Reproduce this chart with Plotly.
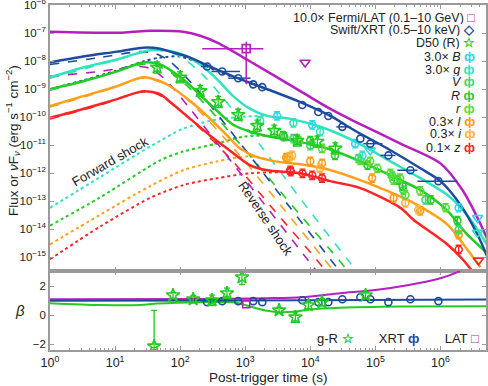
import plotly.graph_objects as go

# ---------------- colours ----------------
C_LAT = "#b51fbf"
C_XRT = "#1d4c9e"
C_TQ = "#2fe3bd"
C_CY = "#2ad6ec"
C_GN = "#22cc22"
C_V = "#3fd66a"
C_R = "#2bc92b"
C_r = "#55dd33"
C_OR = "#ffa01a"
C_I = "#ff9a10"
C_i = "#ffb23a"
C_RD = "#ff2424"

# ---------------- model curves : log10(t [s]), log10(flux) ----------------
lat_tot_lt = [0, 1.031, 1.277, 1.538, 2.046, 2.308, 2.569, 3.077, 3.846, 4.308, 4.662, 5.385, 6.0, 6.338, 6.569, 6.723]
lat_tot_lf = [-6.954, -6.989, -6.954, -6.919, -6.954, -7.095, -7.343, -8.014, -9.074, -9.71, -10.134, -10.947, -11.654, -12.608, -13.597, -14.375]

xrt_tot_lt = [0, 0.508, 1.031, 1.431, 1.692, 1.846, 2.154, 2.415, 2.815, 3.338, 3.846, 4.308, 4.662, 5.185, 5.692, 6.0, 6.308, 6.569, 6.723]
xrt_tot_lf = [-8.049, -7.837, -7.661, -7.519, -7.555, -7.661, -7.873, -8.155, -8.544, -9.004, -9.463, -9.958, -10.452, -11.124, -11.830, -12.290, -13.138, -14.198, -15.011]

tq_tot_lt = [0, 0.508, 1.031, 1.431, 1.692, 2.046, 2.308, 2.569, 2.815, 3.077, 3.338, 3.692, 4.154, 4.692, 5.231, 5.692, 6.108, 6.354, 6.569, 6.738]
tq_tot_lf = [-8.580, -8.226, -7.943, -7.661, -7.590, -7.767, -8.12, -8.650, -9.251, -9.710, -9.958, -10.064, -10.346, -10.876, -11.583, -12.184, -12.784, -13.350, -14.021, -14.657]

gn_tot_lt = [0, 0.508, 1.031, 1.431, 1.692, 2.046, 2.308, 2.569, 2.815, 3.077, 3.385, 3.738, 4.262, 4.769, 5.385, 5.692, 6.108, 6.385, 6.738]
gn_tot_lf = [-9.004, -8.721, -8.367, -8.049, -8.12, -8.650, -9.216, -9.781, -10.276, -10.523, -10.700, -10.841, -11.124, -11.583, -12.254, -12.608, -13.350, -14.127, -14.905]

or_tot_lt = [0, 0.508, 1.031, 1.431, 1.692, 1.846, 2.154, 2.462, 2.723, 2.923, 3.154, 3.462, 3.846, 4.262, 4.769, 5.077, 5.585, 6.108, 6.354, 6.615]
or_tot_lf = [-9.604, -9.251, -8.898, -8.580, -8.721, -8.898, -9.428, -10.064, -10.664, -11.124, -11.406, -11.583, -11.689, -11.866, -12.254, -12.537, -13.067, -13.845, -14.551, -15.364]

rd_tot_lt = [0, 0.508, 1.031, 1.431, 1.692, 1.846, 2.154, 2.462, 2.723, 3.077, 3.338, 3.846, 4.308, 4.769, 5.385, 5.585, 6.108, 6.354, 6.615]
rd_tot_lf = [-10.028, -9.71, -9.357, -9.074, -9.18, -9.463, -10.064, -10.664, -11.124, -11.724, -11.901, -12.007, -12.290, -12.537, -13.244, -13.668, -14.551, -15.117, -15.894]

# reverse-shock components (dashed)
lat_rs_lt = [0, 0.769, 1.308, 1.538, 1.769, 2.154, 2.631, 3.338, 3.954, 4.169]
lat_rs_lf = [-8.544, -8.367, -8.191, -8.261, -8.650, -9.710, -11.124, -13.244, -15.081, -15.717]
rd_rs_lt = [0, 0.769, 1.385, 1.615, 1.846, 2.154, 2.769, 3.477, 4.092, 4.308]
rd_rs_lf = [-10.064, -9.569, -9.110, -9.145, -9.463, -10.064, -11.477, -13.420, -15.081, -15.717]
or_rs_lt = [0, 0.769, 1.385, 1.615, 1.846, 2.154, 2.892, 3.6, 4.215, 4.431]
or_rs_lf = [-9.640, -9.110, -8.615, -8.686, -8.898, -9.463, -11.300, -13.314, -15.081, -15.717]
xrt_rs_lt = [0, 0.769, 1.385, 1.615, 1.846, 2.231, 2.985, 3.692, 4.308, 4.523]
xrt_rs_lf = [-8.12, -7.873, -7.661, -7.731, -8.014, -8.933, -11.124, -13.244, -15.081, -15.717]
gn_rs_lt = [0, 0.769, 1.431, 1.662, 1.923, 2.308, 3.108, 3.815, 4.431, 4.646]
gn_rs_lf = [-9.039, -8.544, -8.12, -8.191, -8.509, -9.357, -11.477, -13.420, -15.081, -15.717]
tq_rs_lt = [0, 0.769, 1.431, 1.692, 2.0, 2.385, 3.246, 3.954, 4.569, 4.785]
tq_rs_lf = [-8.615, -8.12, -7.696, -7.625, -7.837, -8.580, -11.053, -13.244, -15.081, -15.717]

# forward-shock components (dotted)
xrt_fs_lt = [0, 0.508, 1.031, 1.431, 1.692, 2.0, 2.308, 2.615, 3.077, 3.338]
xrt_fs_lf = [-9.004, -8.686, -8.332, -8.014, -7.873, -7.837, -8.085, -8.403, -8.792, -9.004]
tq_fs_lt = [0, 0.769, 1.538, 2.046, 2.462, 2.923, 3.338]
tq_fs_lf = [-13.244, -12.148, -11.053, -10.417, -10.134, -9.993, -9.958]
gn_fs_lt = [0, 0.769, 1.692, 2.046, 2.569, 2.969, 3.308]
gn_fs_lf = [-13.880, -12.87, -11.548, -11.230, -10.947, -10.700, -10.664]
or_fs_lt = [0, 0.769, 1.538, 2.046, 2.569, 3.077, 3.462]
or_fs_lf = [-14.551, -13.491, -12.466, -11.901, -11.583, -11.406, -11.583]
rd_fs_lt = [0, 0.769, 1.538, 2.046, 2.569, 3.077, 3.692]
rd_fs_lf = [-15.081, -13.915, -12.890, -12.431, -12.184, -12.007, -11.97]

# ---------------- data points ----------------
lat_lt, lat_lf = [3.015], [-7.555]
lat_lt_lo, lat_lt_hi = [2.34], [3.28]
lat_lf_lo, lat_lf_hi = [-8.83], [-7.31]
lat_ul_lt, lat_ul_lf = [3.92], [-8.05]

xrt_lt = [2.415, 2.646, 2.892, 3.123, 3.262, 3.877, 4.123, 4.277, 4.492, 4.769, 4.923, 5.2, 5.538, 5.969]
xrt_lf = [-8.19, -8.37, -8.61, -8.83, -8.93, -9.57, -9.82, -9.96, -10.35, -10.77, -10.95, -11.37, -11.90, -12.29]
xrt_lt_lo = [2.32, 2.48, 2.74, 3.123, 3.262, 3.877, 4.123, 4.277, 4.40, 4.769, 4.815, 5.077, 5.338, 5.646]
xrt_lt_hi = [2.50, 2.92, 3.08, 3.123, 3.262, 3.877, 4.123, 4.277, 4.615, 4.769, 5.108, 5.308, 5.646, 6.262]

d50_lt = [1.646, 2.0, 2.308, 2.585, 2.892, 3.185, 3.446, 3.8, 4.108, 4.385]
d50_lf = [-8.23, -8.58, -9.07, -9.46, -9.92, -10.31, -10.49, -10.84, -10.88, -11.12]

B_lt, B_lf = [3.49, 4.03, 4.69, 6.28], [-9.96, -10.28, -10.95, -13.24]
B_ul_lt, B_ul_lf = [4.92, 6.57], [-11.19, -13.60]
g_lt, g_lf = [3.23, 3.74, 4.15, 4.8], [-10.13, -10.21, -10.52, -11.37]
g_ul_lt, g_ul_lf = [6.57], [-14.13]
V_lt = [3.74, 4.0, 4.74, 5.26, 5.43, 5.77, 6.28]
V_lf = [-10.77, -11.02, -11.48, -12.11, -12.61, -12.96, -14.02]
R_lt = [3.58, 3.60, 4.0, 4.38, 4.88, 5.34, 5.42, 5.85, 6.26]
R_lf = [-10.66, -10.70, -10.84, -11.37, -11.72, -12.25, -12.47, -12.96, -13.70]
r_lt = [3.82, 4.18, 4.77, 4.92, 5.03, 5.23, 5.28, 5.38, 5.46, 5.69, 6.08]
r_lf = [-10.84, -11.12, -11.55, -11.58, -11.83, -12.01, -12.25, -12.18, -12.78, -12.64, -13.24]
I_lt = [3.63, 3.65, 4.0, 4.18, 4.95, 5.28, 5.69, 6.28]
I_lf = [-11.45, -11.48, -11.58, -11.65, -12.18, -12.89, -13.35, -14.20]
i_lt = [3.68, 3.72, 4.15, 5.46, 5.66]
i_lf = [-11.41, -11.37, -11.83, -13.07, -13.31]
z_lt = [3.69, 3.70, 3.88, 4.03, 4.18, 6.28]
z_lf = [-11.90, -11.95, -12.01, -12.08, -12.18, -14.73]
z_ul_lt, z_ul_lf = [6.585], [-15.12]

# ---------------- spectral index beta ----------------
beta_xrt_mod_lt, beta_xrt_mod = [0, 3.0, 6.7], [1.0, 1.02, 1.08]
beta_lat_mod_lt = [0, 2.5, 3.338, 3.862, 4.462, 4.969, 5.492, 5.999, 6.262, 6.4]
beta_lat_mod = [1.1, 1.12, 1.17, 1.24, 1.52, 1.72, 2.07, 2.55, 2.97, 3.3]
beta_opt_mod_lt = [0, 0.769, 1.385, 1.646, 2.308, 2.846, 3.0, 3.154, 3.338, 3.538, 3.769, 4.0, 4.462, 5.385, 6.723]
beta_opt_mod = [0.83, 0.7, 0.7, 0.8, 0.9, 0.88, 0.7, 0.5, 0.3, 0.2, 0.25, 0.4, 0.52, 0.6, 0.62]

beta_gR_lt = [1.6, 1.89, 2.2, 2.49, 2.72, 2.95, 3.52, 3.77, 3.97, 4.18, 4.85]
beta_gR = [-2.14, 1.38, 1.1, 1.03, 1.52, 2.62, 0.34, -0.14, 0.69, 0.9, 1.38]
beta_gR_ep = [2.48, 0.2, 0.25, 0.35, 0.35, 0.5, 0.2, 0.35, 0.25, 0.25, 0.2]
beta_gR_em = [0.1, 0.2, 0.25, 0.35, 0.35, 0.5, 0.2, 0.35, 0.25, 0.25, 0.2]
beta_xrt = [0.9, 0.97, 0.97, 0.97, 0.9, 1.03, 0.9, 0.9, 1.1, 1.24, 1.1, 0.9, 1.1, 0.97]
beta_lat_lt, beta_lat = [3.015], [0.76]

# tick labels
x_dec = [0, 1, 2, 3, 4, 5, 6]
y_dec = [-15, -14, -13, -12, -11, -10, -9, -8, -7, -6]

FONT = "Liberation Sans"


def P(a):
    return [10 ** v for v in a]


fig = go.Figure()


def line(lt, lf, color, dash="solid", width=2.5, ya="y", lin=False):
    fig.add_trace(go.Scatter(
        x=P(lt), y=(lf if lin else P(lf)), mode="lines",
        line=dict(color=color, width=width, dash=dash, shape="spline", smoothing=0.8),
        xaxis="x" if ya == "y" else "x2", yaxis=ya, showlegend=False, hoverinfo="skip"))


def pts(lt, lf, color, symbol="circle-open", size=7, e=0.15, ya="y",
        lt_lo=None, lt_hi=None, lin=False, ep=None, em=None):
    t = P(lt)
    if lin:
        y = lf
        ey = dict(type="data", array=ep, arrayminus=em, color=color, thickness=1.3, width=3) if ep else None
    else:
        y = P(lf)
        ey = dict(type="data", array=[v * (10 ** e - 1) for v in y],
                  arrayminus=[v * (1 - 10 ** -e) for v in y],
                  color=color, thickness=1.3, width=3) if e else None
    ex = None
    if lt_lo is not None:
        ex = dict(type="data", array=[10 ** h - tt for h, tt in zip(lt_hi, t)],
                  arrayminus=[tt - 10 ** l for l, tt in zip(lt_lo, t)],
                  color=color, thickness=1.5, width=0)
    fig.add_trace(go.Scatter(
        x=t, y=y, mode="markers",
        marker=dict(symbol=symbol, size=size, color=color, line=dict(color=color, width=1.6)),
        error_y=ey, error_x=ex, xaxis="x" if ya == "y" else "x2", yaxis=ya,
        showlegend=False, hoverinfo="skip"))


# dotted forward shock
line(tq_fs_lt, tq_fs_lf, C_TQ, "dot", 2)
line(gn_fs_lt, gn_fs_lf, C_GN, "dot", 2)
line(or_fs_lt, or_fs_lf, C_OR, "dot", 2)
line(rd_fs_lt, rd_fs_lf, C_RD, "dot", 2)
line(xrt_fs_lt, xrt_fs_lf, C_XRT, "dot", 2)
# dashed reverse shock
line(tq_rs_lt, tq_rs_lf, C_TQ, "dash", 1.6)
line(gn_rs_lt, gn_rs_lf, C_GN, "dash", 1.6)
line(xrt_rs_lt, xrt_rs_lf, C_XRT, "dash", 1.6)
line(or_rs_lt, or_rs_lf, C_OR, "dash", 1.6)
line(rd_rs_lt, rd_rs_lf, C_RD, "dash", 1.6)
line(lat_rs_lt, lat_rs_lf, C_LAT, "dash", 1.6)
# solid totals
line(rd_tot_lt, rd_tot_lf, C_RD)
line(or_tot_lt, or_tot_lf, C_OR)
line(gn_tot_lt, gn_tot_lf, C_GN)
line(tq_tot_lt, tq_tot_lf, C_TQ)
line(xrt_tot_lt, xrt_tot_lf, C_XRT)
line(lat_tot_lt, lat_tot_lf, C_LAT)

# data
pts(z_lt, z_lf, C_RD)
pts(I_lt, I_lf, C_I)
pts(i_lt, i_lf, C_i)
pts(V_lt, V_lf, C_V)
pts(R_lt, R_lf, C_R)
pts(r_lt, r_lf, C_r)
pts(g_lt, g_lf, C_TQ)
pts(B_lt, B_lf, C_CY)
pts(B_ul_lt, B_ul_lf, C_CY, "triangle-down-open", 9, e=0)
pts(g_ul_lt, g_ul_lf, C_TQ, "triangle-down-open", 9, e=0)
pts(z_ul_lt, z_ul_lf, C_RD, "triangle-down-open", 9, e=0)
pts(d50_lt, d50_lf, C_GN, "star-open", 10, e=0.2)
pts(xrt_lt, xrt_lf, C_XRT, "circle-open", 7, e=0, lt_lo=xrt_lt_lo, lt_hi=xrt_lt_hi)
# LAT point with asymmetric errors
lat_t = P(lat_lt)
lat_f = P(lat_lf)
fig.add_trace(go.Scatter(
    x=lat_t, y=lat_f, mode="markers",
    marker=dict(symbol="square-open", size=8, color=C_LAT, line=dict(color=C_LAT, width=1.6)),
    error_x=dict(type="data", array=[10 ** lat_lt_hi[0] - lat_t[0]], arrayminus=[lat_t[0] - 10 ** lat_lt_lo[0]],
                 color=C_LAT, thickness=1.5, width=0),
    error_y=dict(type="data", array=[10 ** lat_lf_hi[0] - lat_f[0]], arrayminus=[lat_f[0] - 10 ** lat_lf_lo[0]],
                 color=C_LAT, thickness=1.5, width=0),
    xaxis="x", yaxis="y", showlegend=False, hoverinfo="skip"))
pts(lat_ul_lt, lat_ul_lf, C_LAT, "triangle-down-open", 9, e=0)

# beta panel
line(beta_opt_mod_lt, beta_opt_mod, C_GN, width=2, ya="y2", lin=True)
line(beta_lat_mod_lt, beta_lat_mod, C_LAT, width=2, ya="y2", lin=True)
line(beta_xrt_mod_lt, beta_xrt_mod, C_XRT, width=2, ya="y2", lin=True)
pts(xrt_lt, beta_xrt, C_XRT, "circle-open", 7, ya="y2", lin=True)
pts(beta_lat_lt, beta_lat, C_LAT, "square-open", 7, ya="y2", lin=True)
pts(beta_gR_lt, beta_gR, C_GN, "star-open", 10, ya="y2", lin=True, ep=beta_gR_ep, em=beta_gR_em)

AX = dict(showline=True, linecolor="#9a9a9a", linewidth=1.5, mirror="ticks", ticks="inside",
          tickcolor="#9a9a9a", ticklen=4, showgrid=False, zeroline=False, automargin=False,
          ticklabeloverflow="allow")
XT = dict(type="log", range=[0, 6.7],
          tickvals=[10 ** d for d in x_dec], ticktext=[f"10<sup>{d}</sup>" for d in x_dec],
          minor=dict(ticks="inside", ticklen=2.5, tickcolor="#9a9a9a", dtick="D1"))

fig.update_layout(
    width=488, height=386, margin=dict(l=50, r=2, t=5, b=36),
    paper_bgcolor="white", plot_bgcolor="white", showlegend=False,
    font=dict(family=FONT, color="#222", size=12),
    xaxis=dict(**AX, **XT, anchor="y", showticklabels=False),
    yaxis=dict(**AX, type="log", range=[-15.5, -5.995],
               tickvals=[10 ** d for d in y_dec],
               ticktext=[f"10<sup>{'−' if d < 0 else ''}{abs(d)}</sup>" for d in y_dec],
               domain=[0.229, 1], tickfont=dict(size=11.5)),
    xaxis2=dict(**AX, **XT, anchor="y2", tickfont=dict(size=12.5)),
    yaxis2=dict(**AX, range=[-2.4, 3.05], tickvals=[-2, 0, 2], ticktext=["−2", "0", "2"],
                domain=[0, 0.229], tickfont=dict(size=11.5)),
)

ann = []
ann.append(dict(text="Post-trigger time (s)", x=0.5, y=(350 - 377) / 345, xref="paper", yref="paper",
                showarrow=False, font=dict(size=13.5), xanchor="center", yanchor="middle"))
ann.append(dict(text="Flux or <i>ν</i>F<sub><i>ν</i></sub> (erg s<sup>−1</sup> cm<sup>−2</sup>)",
                x=-0.085, y=(350 - 140) / 345, xref="paper", yref="paper", textangle=-90,
                showarrow=False, font=dict(size=13.5), xanchor="center", yanchor="middle"))
ann.append(dict(text="<i>β</i>", x=-0.068, y=(350 - 310) / 345, xref="paper", yref="paper",
                showarrow=False, font=dict(size=15), xanchor="center", yanchor="middle"))
ann.append(dict(text="Forward shock", x=(110 - 50) / 436, y=(350 - 161) / 345, xref="paper", yref="paper",
                textangle=-30, showarrow=False, font=dict(size=13), xanchor="center", yanchor="middle"))
ann.append(dict(text="Reverse shock", x=(266 - 50) / 436, y=(350 - 218) / 345, xref="paper", yref="paper",
                textangle=56, showarrow=False, font=dict(size=13), xanchor="center", yanchor="middle"))

leg_labels = ["10.0× Fermi/LAT (0.1–10 GeV)", "Swift/XRT (0.5–10 keV)", "D50 (R)",
              "3.0× <i>B</i>", "3.0× <i>g</i>", "<i>V</i>", "<i>R</i>", "<i>r</i>",
              "0.3× <i>I</i>", "0.3× <i>i</i>", "0.1× <i>z</i>"]
leg_glyphs = ["□", "◇", "☆", "ф", "ф", "ф", "ф", "ф", "ф", "ф", "ф"]
leg_colors = [C_LAT, C_XRT, C_GN, C_CY, C_TQ, C_V, C_R, C_r, C_I, C_i, C_RD]
for k, (lab, gl, col) in enumerate(zip(leg_labels, leg_glyphs, leg_colors)):
    ypx = 17 + 13 * k
    ann.append(dict(text=f"{lab} <span style='color:{col}'><b>{gl}</b></span>",
                    x=(477 - 50) / 436, y=(350 - ypx) / 345, xref="paper", yref="paper",
                    showarrow=False, font=dict(size=12.5), xanchor="right", yanchor="middle",
                    height=13))
ann.append(dict(text=f"g-R <span style='color:{C_GN}'><b>☆</b></span>       XRT <span style='color:{C_XRT}'><b>ф</b></span>       LAT <span style='color:{C_LAT}'><b>□</b></span>",
                x=(398 - 50) / 436, y=(350 - 338) / 345, xref="paper", yref="paper",
                showarrow=False, font=dict(size=13), xanchor="center", yanchor="middle"))
fig.update_layout(annotations=ann)

fig.write_html("out.html", config={"displayModeBar": False},
               post_script="document.body.style.margin='0px';")
